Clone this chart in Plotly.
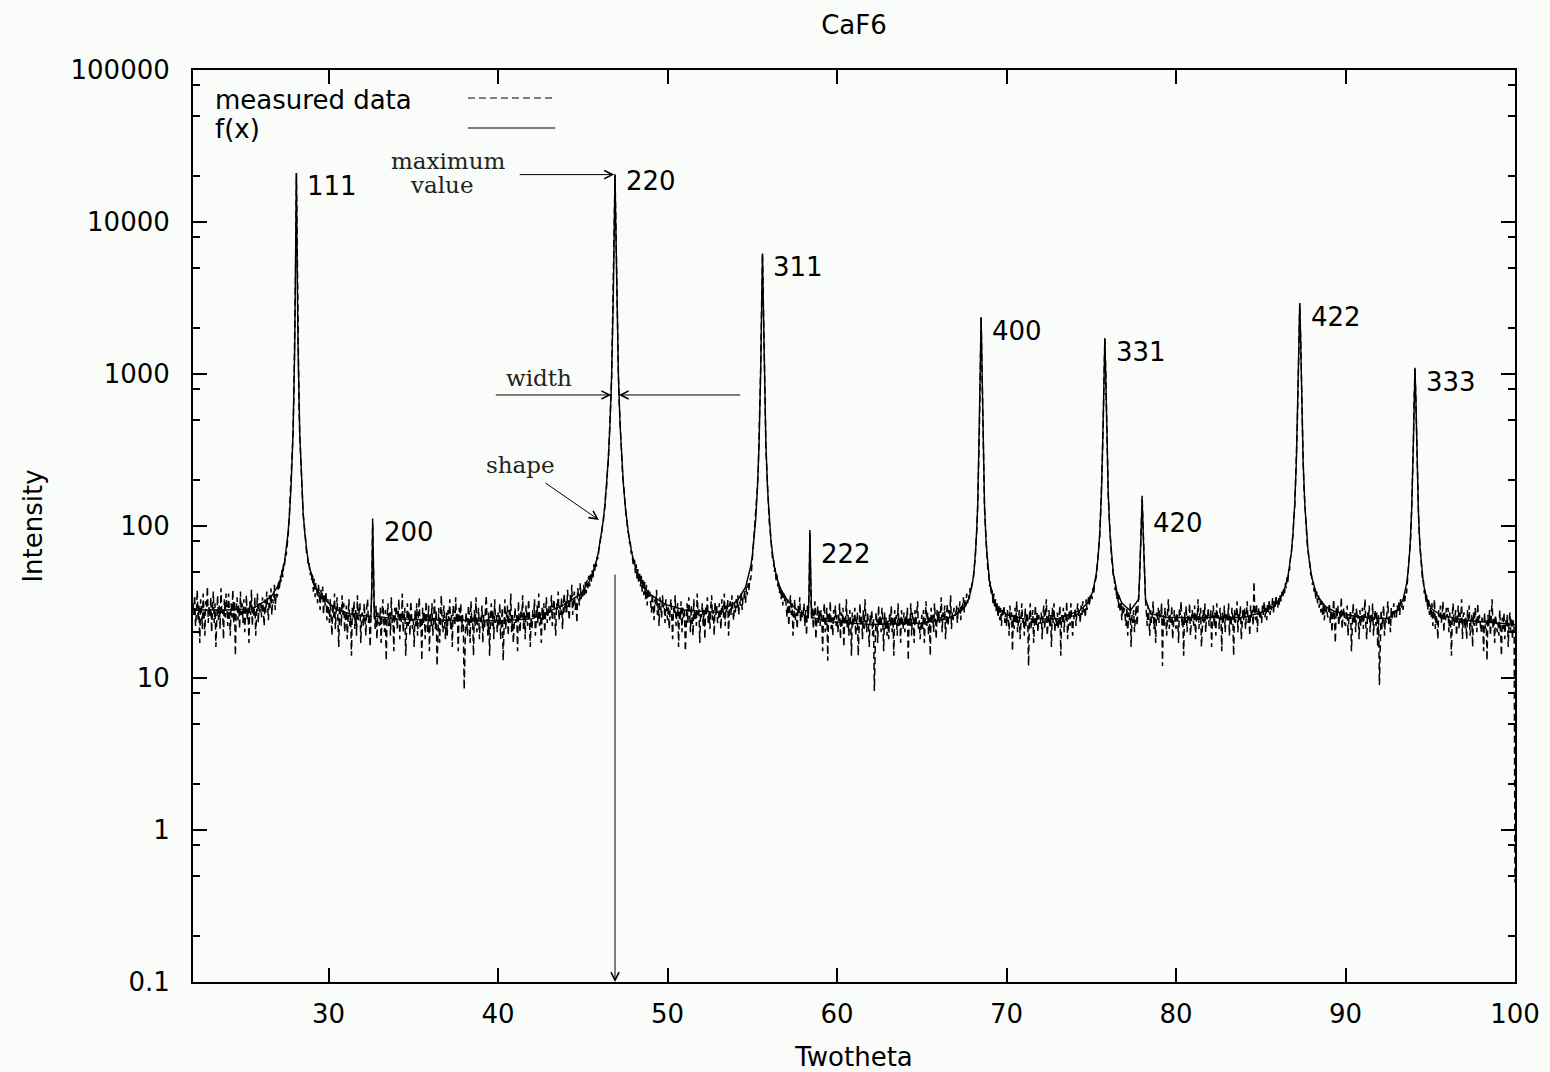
import numpy as np
import plotly.graph_objects as go

# ---------------- data ----------------
# measured scan: 2theta from 22.00 to 100.00 deg, 0.05 deg per step (one row = 1 deg)
theta_start = 22.0
theta_step = 0.05
measured_counts = [
    31, 26, 35, 22, 27, 38, 24, 30, 17, 33, 28, 21, 36, 26, 19, 32, 29, 40, 23, 30,   # 22
    25, 34, 20, 29, 37, 23, 31, 16, 27, 35, 24, 30, 21, 39, 26, 28, 18, 33, 25, 36,   # 23
    29, 22, 36, 27, 19, 31, 25, 38, 23, 32, 14, 28, 34, 24, 30, 21, 37, 26, 31, 23,   # 24
    33, 20, 27, 35, 24, 29, 17, 32, 26, 38, 22, 30, 25, 34, 19, 28, 36, 23, 31, 27,   # 25
    31, 25, 34, 28, 22, 33, 27, 37, 30, 24, 35, 29, 39, 26, 33, 31, 41, 28, 36, 34,   # 26
    36, 44, 38, 47, 43, 52, 46, 57, 55, 66, 64, 80, 84, 98, 128, 145, 190, 280, 395, 700,  # 27
    1400, 4600, 21000, 4900, 1500, 660, 390, 285, 190, 158, 118, 105, 84, 80, 66, 65, 55, 57, 48, 50,  # 28
    44, 49, 37, 45, 34, 42, 39, 31, 41, 36, 28, 38, 33, 40, 26, 35, 30, 37, 24, 33,   # 29
    29, 23, 33, 26, 19, 31, 25, 36, 21, 28, 34, 24, 16, 30, 27, 22, 35, 26, 31, 20,   # 30
    24, 30, 18, 27, 33, 22, 26, 14, 29, 25, 32, 21, 28, 19, 35, 24, 27, 31, 17, 26,   # 31
    27, 22, 31, 24, 19, 29, 33, 23, 26, 16, 28, 38, 112, 36, 25, 21, 30, 18, 27, 24,  # 32
    22, 29, 17, 26, 33, 24, 20, 28, 13, 25, 31, 22, 27, 19, 34, 23, 26, 15, 29, 24,   # 33
    30, 21, 26, 33, 18, 27, 23, 36, 20, 25, 29, 14, 24, 31, 22, 27, 19, 32, 25, 21,   # 34
    24, 16, 28, 22, 31, 19, 26, 34, 21, 25, 13, 29, 23, 27, 18, 32, 24, 20, 30, 15,   # 35
    27, 22, 31, 19, 25, 33, 21, 28, 12, 24, 29, 17, 26, 35, 23, 20, 30, 25, 18, 27,   # 36
    19, 28, 24, 33, 21, 26, 16, 30, 25, 22, 34, 23, 27, 15, 29, 24, 31, 20, 26, 22,   # 37
    8.4, 21, 27, 24, 19, 30, 26, 17, 32, 23, 25, 14, 28, 22, 34, 20, 26, 29, 18, 25,  # 38
    23, 30, 17, 26, 21, 29, 35, 24, 19, 27, 14, 25, 31, 22, 28, 18, 33, 23, 26, 20,   # 39
    27, 22, 31, 18, 25, 29, 13, 26, 33, 21, 24, 30, 19, 28, 23, 36, 20, 26, 17, 24,   # 40
    29, 23, 26, 15, 32, 24, 20, 28, 25, 35, 21, 27, 18, 30, 24, 22, 33, 26, 16, 25,   # 41
    21, 28, 25, 33, 19, 26, 30, 23, 36, 22, 27, 17, 29, 24, 31, 20, 26, 34, 23, 28,   # 42
    30, 24, 27, 35, 22, 29, 33, 25, 19, 31, 28, 37, 24, 30, 26, 34, 21, 29, 36, 27,   # 43
    33, 27, 38, 29, 24, 35, 31, 41, 26, 33, 37, 28, 32, 23, 39, 34, 30, 42, 33, 36,   # 44
    34, 41, 35, 43, 36, 44, 39, 47, 40, 48, 43, 51, 45, 56, 50, 59, 54, 63, 61, 71,   # 45
    73, 84, 85, 99, 104, 124, 132, 162, 178, 228, 262, 355, 445, 660, 950, 1700, 3300, 9100, 20500, 8800,  # 46
    3400, 1600, 990, 630, 470, 335, 280, 212, 190, 150, 140, 115, 110, 92, 90, 77, 78, 66, 68, 58,  # 47
    55, 60, 49, 56, 45, 52, 42, 50, 40, 47, 37, 45, 35, 43, 33, 41, 30, 39, 34, 37,   # 48
    32, 27, 36, 29, 24, 33, 30, 38, 26, 31, 22, 34, 28, 25, 35, 29, 31, 23, 33, 27,   # 49
    24, 30, 21, 28, 33, 25, 18, 29, 26, 35, 22, 27, 31, 16, 28, 24, 32, 20, 29, 25,   # 50
    28, 15, 26, 31, 23, 34, 27, 20, 30, 25, 19, 33, 24, 28, 22, 36, 26, 29, 17, 27,   # 51
    25, 31, 22, 28, 18, 30, 26, 34, 23, 27, 21, 29, 35, 24, 28, 19, 32, 26, 30, 23,   # 52
    24, 31, 27, 21, 33, 28, 25, 36, 22, 30, 27, 33, 19, 29, 32, 26, 35, 28, 24, 31,   # 53
    27, 33, 29, 35, 26, 32, 30, 37, 28, 34, 33, 38, 31, 40, 35, 42, 38, 45, 44, 50,   # 54
    60, 68, 83, 90, 115, 130, 180, 230, 360, 560, 1150, 2900, 6200, 2950, 1120, 590, 340, 245, 168, 140,  # 55
    106, 95, 77, 73, 60, 61, 50, 53, 44, 48, 40, 44, 36, 41, 33, 38, 30, 36, 32, 35,  # 56
    30, 25, 33, 22, 28, 35, 26, 31, 19, 29, 33, 24, 27, 21, 30, 26, 34, 23, 28, 25,   # 57
    26, 31, 22, 28, 19, 30, 25, 38, 94, 37, 24, 29, 21, 27, 32, 18, 26, 30, 23, 28,   # 58
    22, 28, 25, 15, 26, 31, 20, 24, 29, 13, 27, 23, 32, 21, 25, 19, 28, 24, 30, 22,   # 59
    26, 20, 24, 31, 18, 27, 22, 29, 16, 25, 23, 33, 21, 26, 19, 28, 24, 14, 27, 22,   # 60
    24, 29, 19, 23, 27, 14, 25, 31, 22, 26, 18, 28, 21, 33, 24, 20, 27, 23, 16, 26,   # 61
    23, 28, 19, 25, 8.2, 21, 27, 24, 17, 30, 22, 26, 20, 29, 24, 15, 27, 21, 25, 19,  # 62
    24, 18, 27, 22, 30, 20, 25, 14, 28, 23, 26, 19, 31, 22, 25, 17, 28, 24, 21, 27,   # 63
    20, 26, 23, 29, 13, 25, 22, 31, 19, 27, 24, 17, 28, 22, 26, 32, 21, 24, 18, 25,   # 64
    26, 21, 28, 17, 24, 32, 22, 27, 19, 25, 14, 29, 23, 26, 20, 31, 24, 18, 28, 23,   # 65
    28, 23, 26, 34, 20, 27, 24, 30, 18, 26, 31, 22, 28, 25, 35, 21, 27, 24, 29, 26,   # 66
    26, 30, 23, 29, 27, 32, 24, 30, 28, 34, 27, 33, 30, 36, 31, 35, 33, 39, 37, 41,   # 67
    45, 46, 55, 60, 79, 95, 140, 212, 430, 1050, 2350, 1100, 405, 225, 132, 100, 73, 64, 51, 48,  # 68
    40, 43, 35, 38, 31, 36, 29, 33, 27, 31, 25, 30, 24, 29, 22, 28, 26, 30, 23, 27,   # 69
    22, 28, 25, 19, 30, 24, 27, 15, 26, 21, 29, 23, 32, 20, 25, 28, 18, 26, 31, 23,   # 70
    25, 19, 29, 22, 27, 24, 12, 26, 31, 21, 25, 28, 17, 24, 30, 22, 27, 20, 26, 23,   # 71
    23, 27, 18, 26, 30, 21, 25, 33, 19, 24, 28, 22, 26, 16, 29, 23, 31, 20, 25, 22,   # 72
    27, 21, 25, 30, 14, 26, 23, 29, 20, 27, 24, 32, 18, 25, 28, 22, 31, 24, 19, 26,   # 73
    24, 29, 22, 27, 31, 25, 28, 23, 30, 26, 32, 27, 29, 25, 33, 28, 31, 35, 30, 36,   # 74
    36, 33, 39, 36, 43, 44, 47, 56, 60, 75, 86, 120, 160, 265, 460, 1000, 1700, 1050, 480, 250,  # 75
    160, 120, 88, 76, 60, 56, 46, 47, 38, 41, 33, 37, 29, 35, 27, 32, 24, 30, 26, 29,  # 76
    26, 22, 29, 19, 27, 24, 31, 16, 26, 23, 28, 20, 25, 30, 22, 27, 33, 45, 68, 105,  # 77
    158, 102, 66, 43, 33, 27, 22, 30, 25, 19, 28, 23, 26, 32, 21, 25, 17, 27, 24, 29,  # 78
    23, 28, 25, 31, 12, 26, 22, 29, 24, 19, 27, 33, 21, 26, 23, 30, 18, 25, 28, 24,   # 79
    21, 27, 24, 17, 29, 26, 32, 22, 25, 14, 27, 23, 30, 20, 26, 24, 31, 19, 25, 28,   # 80
    25, 22, 30, 18, 27, 24, 33, 21, 26, 29, 16, 25, 28, 23, 31, 20, 26, 24, 29, 22,   # 81
    23, 28, 16, 25, 30, 22, 27, 19, 31, 24, 26, 21, 29, 25, 15, 27, 23, 30, 20, 26,   # 82
    27, 24, 31, 19, 26, 22, 29, 25, 14, 28, 23, 26, 32, 20, 27, 24, 30, 18, 25, 28,   # 83
    24, 29, 21, 27, 32, 23, 26, 19, 30, 25, 28, 22, 43, 26, 24, 31, 20, 27, 29, 25,   # 84
    27, 23, 30, 26, 32, 25, 29, 24, 31, 27, 33, 26, 30, 28, 34, 27, 32, 29, 35, 30,   # 85
    29, 34, 30, 36, 32, 37, 34, 39, 36, 42, 39, 46, 43, 52, 51, 62, 64, 78, 87, 112,  # 86
    130, 190, 255, 440, 780, 1700, 2900, 1780, 810, 410, 270, 176, 140, 104, 91, 73, 68, 57, 55, 48,  # 87
    47, 41, 43, 37, 39, 33, 37, 31, 35, 29, 33, 27, 32, 26, 31, 24, 30, 27, 29, 25,   # 88
    27, 31, 23, 28, 20, 27, 33, 24, 17, 29, 25, 30, 22, 27, 24, 34, 21, 26, 29, 23,   # 89
    22, 27, 30, 19, 25, 24, 28, 15, 26, 31, 23, 27, 20, 29, 24, 26, 18, 28, 22, 25,   # 90
    29, 21, 25, 33, 22, 18, 27, 24, 30, 20, 26, 23, 31, 19, 25, 28, 22, 27, 16, 26,   # 91
    9, 24, 28, 21, 26, 30, 19, 25, 23, 27, 32, 22, 26, 20, 29, 24, 27, 31, 25, 28,    # 92
    25, 30, 27, 32, 26, 33, 29, 31, 28, 35, 32, 37, 36, 43, 47, 56, 72, 86, 128, 185,  # 93
    330, 700, 1080, 680, 345, 185, 128, 87, 73, 56, 52, 43, 44, 36, 38, 31, 35, 28, 33, 26,  # 94
    29, 25, 31, 22, 27, 33, 21, 26, 24, 18, 28, 25, 30, 23, 26, 32, 20, 27, 24, 29,   # 95
    25, 29, 20, 27, 23, 14, 26, 31, 22, 24, 28, 19, 25, 30, 21, 27, 23, 33, 18, 26,   # 96
    27, 21, 25, 18, 28, 23, 30, 19, 24, 26, 16, 27, 22, 29, 24, 20, 31, 23, 26, 21,   # 97
    20, 25, 23, 15, 27, 21, 24, 13, 26, 22, 28, 19, 24, 33, 21, 25, 17, 26, 23, 20,   # 98
    23, 19, 28, 22, 14, 25, 21, 27, 18, 24, 22, 26, 16, 23, 27, 20, 25, 18, 24, 21,   # 99
    0.45,                                                                              # 100
]

# fitted curve f(x)
fit_theta = [
    22.0, 24.0, 25.5, 26.6, 27.1, 27.4, 27.6, 27.7, 27.8, 27.9, 28.0, 28.05, 28.1, 28.15, 28.2,
    28.3, 28.4, 28.5, 28.6, 28.8, 29.1, 29.6, 30.5, 31.5, 32.5, 32.55, 32.6, 32.65, 32.7, 34.0,
    37.0, 40.0, 42.0, 43.9, 44.9, 45.4, 45.7, 45.9, 46.1, 46.2, 46.3, 46.4, 46.5, 46.6, 46.7,
    46.8, 46.85, 46.9, 46.95, 47.0, 47.1, 47.2, 47.3, 47.4, 47.5, 47.6, 47.7, 47.9, 48.1, 48.4,
    48.9, 49.9, 51.0, 53.0, 54.1, 54.6, 54.9, 55.0, 55.1, 55.2, 55.3, 55.4, 55.5, 55.55, 55.6,
    55.65, 55.7, 55.8, 55.9, 56.0, 56.1, 56.3, 56.6, 57.1, 57.8, 58.3, 58.35, 58.4, 58.45, 58.5,
    59.5, 62.0, 65.0, 66.5, 67.0, 67.5, 67.8, 68.0, 68.1, 68.2, 68.3, 68.4, 68.45, 68.5, 68.55,
    68.6, 68.7, 68.8, 68.9, 69.0, 69.2, 69.5, 70.0, 71.0, 73.0, 74.3, 74.8, 75.1, 75.3, 75.4,
    75.5, 75.6, 75.7, 75.75, 75.8, 75.85, 75.9, 76.0, 76.1, 76.2, 76.3, 76.5, 76.8, 77.3, 77.8,
    77.9, 78.0, 78.1, 78.2, 78.5, 79.5, 84.0, 85.3, 85.8, 86.3, 86.6, 86.8, 86.9, 87.0, 87.1,
    87.2, 87.25, 87.3, 87.35, 87.4, 87.5, 87.6, 87.7, 87.8, 88.0, 88.3, 88.8, 89.3, 90.5, 92.5,
    93.1, 93.4, 93.6, 93.7, 93.8, 93.9, 94.0, 94.05, 94.1, 94.15, 94.2, 94.3, 94.4, 94.5, 94.6,
    94.8, 95.1, 95.6, 97.0, 100.0,
]
fit_counts = [
    28, 28, 28.5, 34, 42, 58, 88, 122, 196, 403, 1457, 4770, 21000, 4770, 1457,
    403, 196, 122, 88, 58, 42, 34, 28, 26, 25.5, 40, 105, 40, 25.5, 24.5,
    24, 23.8, 24.5, 30.4, 35.9, 43.6, 53.5, 65.6, 88, 107, 136, 184, 271, 458, 973,
    3349, 8978, 20500, 8978, 3349, 973, 458, 271, 184, 136, 107, 88, 65.6, 53.5, 43.6,
    35.9, 30.4, 28, 27, 32, 39.6, 53.7, 63.6, 80, 110, 174, 349, 1142, 2923, 6200,
    2923, 1142, 349, 174, 110, 80, 53.7, 39.6, 32, 27, 25, 38, 90, 38, 25,
    23.5, 22.5, 23, 24.5, 26.1, 28.8, 33.7, 42.8, 53, 76, 137, 419, 1075, 2370, 1075,
    419, 137, 76, 53, 42.8, 33.7, 28.8, 26.1, 24.5, 24.5, 27.7, 31.1, 37.4, 49, 62,
    90, 165, 475, 1031, 1725, 1031, 475, 165, 90, 62, 49, 37.4, 31.1, 27.7, 33,
    68, 150, 68, 33, 26.5, 25, 25, 27.6, 29.6, 35.4, 46.2, 66.3, 89, 137, 265,
    794, 1744, 2930, 1744, 794, 265, 137, 89, 66.3, 46.2, 35.4, 29.6, 27.6, 25.5, 24.5,
    28.4, 33, 41.4, 51, 71, 124, 337, 692, 1100, 692, 337, 124, 71, 51, 41.4,
    33, 28.4, 26, 24, 22.5,
]

# reflections
peak_theta = [28.1, 32.6, 46.9, 55.6, 58.4, 68.5, 75.8, 78.0, 87.3, 94.1]
peak_hkl = ["111", "200", "220", "311", "222", "400", "331", "420", "422", "333"]

y_tickvals = [0.1, 1, 10, 100, 1000, 10000, 100000]
y_ticktext = ["0.1", "1", "10", "100", "1000", "10000", "100000"]
y_minor = [m * 10.0 ** k for k in range(-1, 5) for m in (2, 5, 8)]
x_tickvals = [30, 40, 50, 60, 70, 80, 90, 100]

# ---------------- figure ----------------
theta = np.round(theta_start + theta_step * np.arange(len(measured_counts)), 2)
measured = np.array(measured_counts, dtype=float)

SANS = "DejaVu Sans"
SERIF = "DejaVu Serif"
BG = "#f9fcf9"

fig = go.Figure()
fig.add_trace(go.Scatter(
    x=theta, y=measured, mode="lines", name="measured data", showlegend=False,
    line=dict(color="black", width=1.5, dash="7px,4px"),
))
fig.add_trace(go.Scatter(
    x=fit_theta, y=fit_counts, mode="lines", name="f(x)", showlegend=False,
    line=dict(color="black", width=1.4),
))

annotations = []
# peak labels (hkl) next to each reflection top
label_nudge = {"220": 7, "222": -11, "420": -14}   # extra vertical shift in px
peak_top = {}
for th, hkl in zip(peak_theta, peak_hkl):
    sel = np.abs(theta - th) < 0.15
    top = measured[sel].max()
    peak_top[hkl] = top
    annotations.append(dict(
        x=th, y=np.log10(top), xref="x", yref="y", text=hkl, showarrow=False,
        xanchor="left", yanchor="top", xshift=9, yshift=4 + label_nudge.get(hkl, 0),
        font=dict(family=SANS, size=26, color="black"),
    ))

# explanatory annotations on the 220 reflection
p220 = peak_theta[peak_hkl.index("220")]
top220 = np.log10(peak_top["220"])
arrow = dict(showarrow=True, arrowhead=5, arrowsize=1.6, arrowwidth=1,
             arrowcolor="black", standoff=0, startstandoff=0, text="",
             xref="x", yref="y")
annotations += [
    dict(arrow, x=p220 - 0.05, y=top220, ax=-96, ay=0),
    dict(arrow, x=p220 - 0.22, y=2.862, ax=-117, ay=0),
    dict(arrow, x=p220 + 0.22, y=2.862, ax=123, ay=0),
    dict(arrow, x=45.95, y=2.04, ax=-55, ay=-38),
    dict(arrow, x=p220, y=-1, ax=0, ay=-409),
]
serif_font = dict(family=SERIF, size=23, color="#222222")
for txt, tx, ty in [("maximum", 37.03, 4.40), ("value", 36.67, 4.245),
                    ("width", 42.40, 2.974), ("shape", 41.34, 2.401),
                    ("position", 45.89, -1.138)]:
    annotations.append(dict(x=tx, y=ty, xref="x", yref="y", text=txt,
                            showarrow=False, xanchor="center", yanchor="middle",
                            font=serif_font))

# gnuplot-style key: text on the left, line sample on the right
annotations += [
    dict(x=0.0151, y=0.967, xref="paper", yref="paper", text="measured data",
         showarrow=False, xanchor="left", yanchor="middle",
         font=dict(family=SANS, size=26, color="black")),
    dict(x=0.0151, y=0.935, xref="paper", yref="paper", text="f(x)",
         showarrow=False, xanchor="left", yanchor="middle",
         font=dict(family=SANS, size=26, color="black")),
]
shapes = [
    dict(type="line", xref="paper", yref="paper", x0=0.208, x1=0.274, y0=0.9693, y1=0.9693,
         line=dict(color="black", width=1.2, dash="7px,4px")),
    dict(type="line", xref="paper", yref="paper", x0=0.208, x1=0.274, y0=0.9364, y1=0.9364,
         line=dict(color="black", width=1.2)),
]

fig.update_layout(
    width=1550, height=1072,
    margin=dict(l=193, r=35, t=70, b=90, autoexpand=False),
    paper_bgcolor=BG, plot_bgcolor=BG,
    showlegend=False,
    title=dict(text="CaF6", x=0.5, xref="paper", xanchor="center",
               y=1 - 25 / 1072, yref="container", yanchor="middle",
               font=dict(family=SANS, size=26, color="black")),
    annotations=annotations,
    shapes=shapes,
    font=dict(family=SANS, size=26, color="black"),
)
fig.update_xaxes(
    range=[22, 100], tickmode="array", tickvals=x_tickvals,
    ticks="inside", ticklen=14, tickwidth=1.5, tickcolor="black",
    showline=True, linecolor="black", linewidth=2, mirror="ticks",
    showgrid=False, zeroline=False, automargin=False,
    tickfont=dict(family=SANS, size=26, color="black"),
    ticklabelstandoff=8,
    title=dict(text="Twotheta", font=dict(family=SANS, size=26, color="black"), standoff=23),
)
fig.update_yaxes(
    type="log", range=[-1, 5], tickmode="array", tickvals=y_tickvals, ticktext=y_ticktext,
    ticks="inside", ticklen=14, tickwidth=1.5, tickcolor="black",
    minor=dict(tickmode="array", tickvals=y_minor, ticks="inside", ticklen=7,
               tickwidth=1.5, tickcolor="black", showgrid=False),
    showline=True, linecolor="black", linewidth=2, mirror="ticks",
    showgrid=False, zeroline=False, automargin=False,
    tickfont=dict(family=SANS, size=26, color="black"),
    ticklabelstandoff=16,
    title=dict(text="Intensity", font=dict(family=SANS, size=26, color="black"), standoff=20),
)

fig.write_html("out.html")
